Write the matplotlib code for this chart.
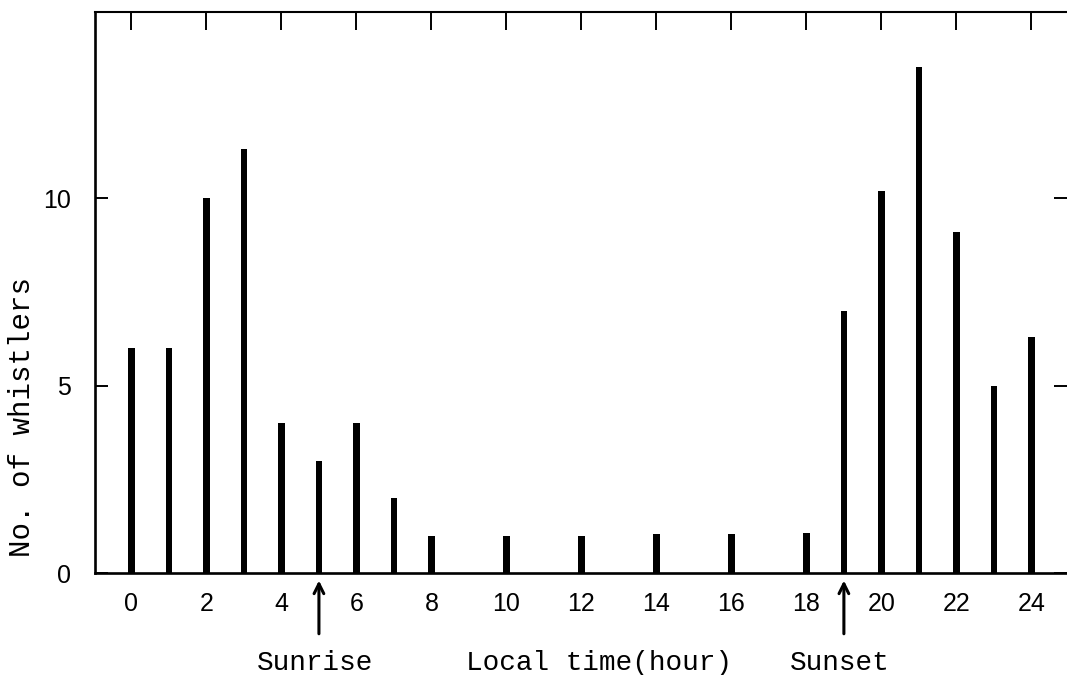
import matplotlib
matplotlib.use('Agg')
import matplotlib.pyplot as plt

# ---- data ----
hours = [0, 1, 2, 3, 4, 5, 6, 7, 8, 10, 12, 14, 16, 18, 19, 20, 21, 22, 23, 24]
counts = [6, 6, 10, 11.3, 4, 3, 4, 2, 1, 1, 1, 1.05, 1.05, 1.08, 7, 10.2, 13.5, 9.1, 5, 6.3]
xticks = list(range(0, 25, 2))
yticks = [0, 5, 10]
sunrise_hour = 5
sunset_hour = 19

mono = ['Liberation Mono', 'DejaVu Sans Mono']
sans = ['Liberation Sans', 'DejaVu Sans']

fig = plt.figure(figsize=(10.67, 6.75), dpi=100)
ax = fig.add_axes([0.089, 0.1511, 0.911, 0.8311])

ax.bar(hours, counts, width=0.18, color='black', zorder=3)

ax.set_xlim(-0.973, 24.95)
ax.set_ylim(0, 14.96)

ax.spines['right'].set_visible(False)
for s in ['left', 'bottom']:
    ax.spines[s].set_linewidth(1.9)
ax.spines['top'].set_linewidth(1.5)

ax.set_xticks(xticks)
ax.set_xticklabels([str(t) for t in xticks], fontfamily=sans, fontsize=18)
ax.set_yticks(yticks)
ax.set_yticklabels([str(t) for t in yticks], fontfamily=sans, fontsize=18)

ax.tick_params(axis='x', bottom=False, top=True, direction='in', length=13,
               width=1.4, pad=13.5)
ax.tick_params(axis='y', left=True, right=True, direction='in', length=9.5,
               width=1.4, pad=17)

# sunrise / sunset arrows under the axis
for h in (sunrise_hour, sunset_hour):
    ax.annotate('', xy=(h, -0.2), xytext=(h, -1.62), annotation_clip=False,
                arrowprops=dict(arrowstyle='->,head_length=0.7,head_width=0.35',
                                lw=2.2, color='black', shrinkA=0, shrinkB=0))

fig.text(315 / 1067, 1 - 670 / 675, 'Sunrise', ha='center', va='baseline',
         fontfamily=mono, fontsize=20)
fig.text(599 / 1067, 1 - 670 / 675, 'Local time(hour)', ha='center', va='baseline',
         fontfamily=mono, fontsize=20)
fig.text(840 / 1067, 1 - 670 / 675, 'Sunset', ha='center', va='baseline',
         fontfamily=mono, fontsize=20)
fig.text(22 / 1067, 1 - 417 / 675, 'No. of whistlers', rotation=90,
         ha='center', va='center', fontfamily=mono, fontsize=21)

fig.savefig('out.png', dpi=100)
